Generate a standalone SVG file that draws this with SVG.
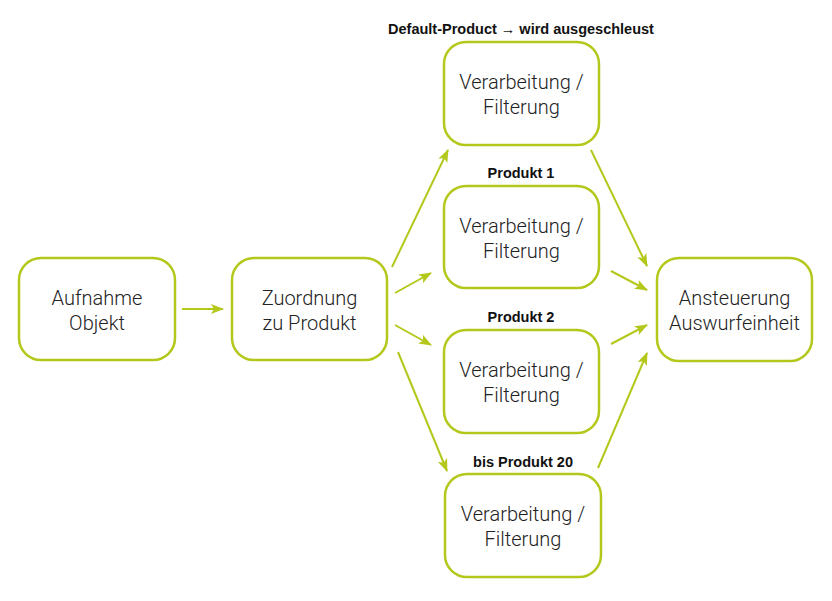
<svg xmlns="http://www.w3.org/2000/svg" width="832" height="601" viewBox="0 0 832 601">
<style>
.box{fill:#fff;stroke:#b4c81c;stroke-width:2.5}
.t{font-family:Roboto,"Liberation Sans",sans-serif;font-weight:300;font-size:20px;fill:#222;text-anchor:middle}
.lb{font-family:"Liberation Sans",Arial,sans-serif;font-weight:bold;font-size:14.5px;fill:#111;text-anchor:middle}
.c{stroke:#b4c81c;stroke-width:2;fill:none;marker-end:url(#ah)}
</style>
<defs>
<marker id="ah" markerUnits="userSpaceOnUse" markerWidth="14" markerHeight="12" refX="12" refY="5" orient="auto" viewBox="0 0 14 10">
<path d="M0,0 L13,5 L0,10 L3,5 z" fill="#b4c81c"/>
</marker>
</defs>
<rect width="832" height="601" fill="#fff"/>
<g id="connectors">
<line class="c" x1="182" y1="309" x2="223" y2="309"/>
<line class="c" x1="392" y1="267" x2="448" y2="150"/>
<line class="c" x1="395" y1="293" x2="431" y2="273"/>
<line class="c" x1="395" y1="325" x2="431" y2="345"/>
<line class="c" x1="398" y1="352" x2="447" y2="471"/>
<line class="c" x1="591" y1="150" x2="647" y2="266"/>
<line class="c" x1="611" y1="271" x2="647" y2="290"/>
<line class="c" x1="611" y1="344" x2="647" y2="325"/>
<line class="c" x1="598" y1="468" x2="647" y2="353"/>
</g>
<g id="n-aufnahme">
<rect class="box" x="19" y="258" width="156" height="102" rx="22"/>
<text class="t" x="97" y="305">Aufnahme</text>
<text class="t" x="97" y="330">Objekt</text>
</g>
<g id="n-zuordnung">
<rect class="box" x="232" y="258" width="155" height="102" rx="22"/>
<text class="t" x="309.5" y="305">Zuordnung</text>
<text class="t" x="309.5" y="330">zu Produkt</text>
</g>
<g id="n-default">
<text class="lb" x="521" y="34">Default-Product → wird ausgeschleust</text>
<rect class="box" x="444" y="42" width="155" height="103" rx="22"/>
<text class="t" x="521.5" y="89">Verarbeitung /</text>
<text class="t" x="521.5" y="114">Filterung</text>
</g>
<g id="n-p1">
<text class="lb" x="521" y="178">Produkt 1</text>
<rect class="box" x="444" y="186" width="155" height="102" rx="22"/>
<text class="t" x="521.5" y="233">Verarbeitung /</text>
<text class="t" x="521.5" y="258">Filterung</text>
</g>
<g id="n-p2">
<text class="lb" x="521" y="322">Produkt 2</text>
<rect class="box" x="444" y="330" width="155" height="103" rx="22"/>
<text class="t" x="521.5" y="377">Verarbeitung /</text>
<text class="t" x="521.5" y="402">Filterung</text>
</g>
<g id="n-p20">
<text class="lb" x="523" y="467">bis Produkt 20</text>
<rect class="box" x="445" y="474" width="156" height="103" rx="22"/>
<text class="t" x="523" y="521">Verarbeitung /</text>
<text class="t" x="523" y="546">Filterung</text>
</g>
<g id="n-ansteuerung">
<rect class="box" x="657" y="258" width="155" height="103" rx="22"/>
<text class="t" x="734.5" y="305">Ansteuerung</text>
<text class="t" x="734.5" y="330">Auswurfeinheit</text>
</g>
</svg>
